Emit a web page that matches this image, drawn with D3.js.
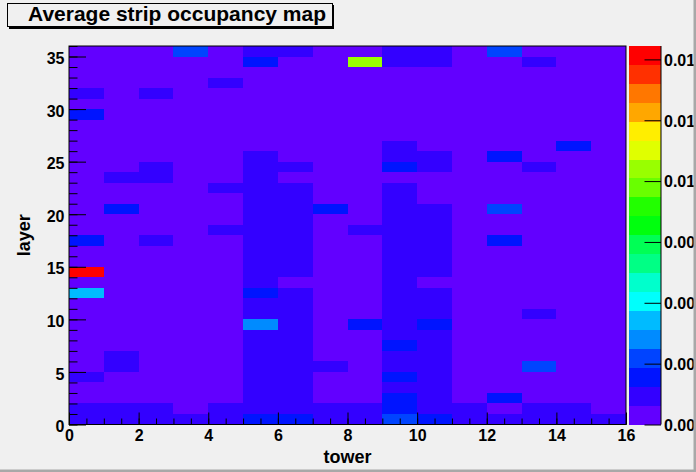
<!DOCTYPE html>
<html>
<head>
<meta charset="utf-8">
<script src="https://cdn.jsdelivr.net/npm/d3@7"></script>
<style>
  body { margin: 0; background: #f0f0f0; }
  svg { display: block; }
  text { font-family: "Liberation Sans", Arial, sans-serif; font-weight: bold; fill: #000; }
</style>
</head>
<body>
<svg id="chart" width="696" height="472"></svg>
<script>
// towers on x, layers on y
var towerTicks = [0, 2, 4, 6, 8, 10, 12, 14, 16];
var layerTicks = [0, 5, 10, 15, 20, 25, 30, 35];
var zTicks = [0.002, 0.004, 0.006, 0.008, 0.010, 0.012, 0.014];
var zMin = 0.002;

// average occupancy, units of 1e-3, one row per layer (layer 0 first), 16 towers each
var layer00 = [2.9,2.9,2.9,2.9,2.9,3.6,3.6,2.9,2.9,4.2,3.6,2.9,2.9,2.9,2.9,2.9];
var layer01 = [2.9,2.9,2.9,2.3,2.9,2.9,2.9,2.9,2.9,3.6,2.9,2.9,2.3,2.9,2.9,2.3];
var layer02 = [2.3,2.3,2.3,2.3,2.3,2.9,2.9,2.3,2.3,3.6,2.9,2.3,3.6,2.3,2.3,2.3];
var layer03 = [2.3,2.3,2.3,2.3,2.3,2.9,2.9,2.3,2.3,2.9,2.9,2.3,2.3,2.3,2.3,2.3];
var layer04 = [2.9,2.3,2.3,2.3,2.3,2.9,2.9,2.3,2.3,3.6,2.9,2.3,2.3,2.3,2.3,2.3];
var layer05 = [2.3,2.9,2.3,2.3,2.3,2.9,2.9,2.9,2.3,2.9,2.9,2.3,2.3,4.2,2.3,2.3];
var layer06 = [2.3,2.9,2.3,2.3,2.3,2.9,2.9,2.3,2.3,2.9,2.9,2.3,2.3,2.3,2.3,2.3];
var layer07 = [2.3,2.3,2.3,2.3,2.3,2.9,2.9,2.3,2.3,3.6,2.9,2.3,2.3,2.3,2.3,2.3];
var layer08 = [2.3,2.3,2.3,2.3,2.3,2.9,2.9,2.3,2.3,2.9,2.9,2.3,2.3,2.3,2.3,2.3];
var layer09 = [2.3,2.3,2.3,2.3,2.3,4.8,2.9,2.3,3.6,2.9,3.6,2.3,2.3,2.3,2.3,2.3];
var layer10 = [2.3,2.3,2.3,2.3,2.3,2.9,2.9,2.3,2.3,2.9,2.9,2.3,2.3,2.9,2.3,2.3];
var layer11 = [2.3,2.3,2.3,2.3,2.3,2.9,2.9,2.3,2.3,2.9,2.9,2.3,2.3,2.3,2.3,2.3];
var layer12 = [5.4,2.3,2.3,2.3,2.3,3.6,2.9,2.3,2.3,2.9,2.9,2.3,2.3,2.3,2.3,2.3];
var layer13 = [2.3,2.3,2.3,2.3,2.3,2.9,2.3,2.3,2.3,2.9,2.3,2.3,2.3,2.3,2.3,2.3];
var layer14 = [14.44,2.3,2.3,2.3,2.3,2.9,2.9,2.3,2.3,2.9,2.9,2.3,2.3,2.3,2.3,2.3];
var layer15 = [2.3,2.3,2.3,2.3,2.3,2.9,2.9,2.3,2.3,2.9,2.9,2.3,2.3,2.3,2.3,2.3];
var layer16 = [2.3,2.3,2.3,2.3,2.3,2.9,2.9,2.3,2.3,2.9,2.9,2.3,2.3,2.3,2.3,2.3];
var layer17 = [3.6,2.3,2.9,2.3,2.3,2.9,2.9,2.3,2.3,2.9,2.9,2.3,3.6,2.3,2.3,2.3];
var layer18 = [2.3,2.3,2.3,2.3,2.9,2.9,2.9,2.3,2.9,2.9,2.9,2.3,2.3,2.3,2.3,2.3];
var layer19 = [2.3,2.3,2.3,2.3,2.3,2.9,2.9,2.3,2.3,2.9,2.9,2.3,2.3,2.3,2.3,2.3];
var layer20 = [2.3,3.6,2.3,2.3,2.3,2.9,2.9,3.6,2.3,2.9,2.9,2.3,4.2,2.3,2.3,2.3];
var layer21 = [2.3,2.3,2.3,2.3,2.3,2.9,2.9,2.3,2.3,2.9,2.3,2.3,2.3,2.3,2.3,2.3];
var layer22 = [2.3,2.3,2.3,2.3,2.9,2.9,2.9,2.3,2.3,2.9,2.3,2.3,2.3,2.3,2.3,2.3];
var layer23 = [2.3,2.9,2.9,2.3,2.3,2.9,2.3,2.3,2.3,2.3,2.3,2.3,2.3,2.3,2.3,2.3];
var layer24 = [2.3,2.3,2.9,2.3,2.3,2.9,2.9,2.3,2.3,3.6,2.9,2.3,2.3,2.9,2.3,2.3];
var layer25 = [2.3,2.3,2.3,2.3,2.3,2.9,2.3,2.3,2.3,2.9,2.9,2.3,3.6,2.3,2.3,2.3];
var layer26 = [2.3,2.3,2.3,2.3,2.3,2.3,2.3,2.3,2.3,2.9,2.3,2.3,2.3,2.3,3.6,2.3];
var layer27 = [2.3,2.3,2.3,2.3,2.3,2.3,2.3,2.3,2.3,2.3,2.3,2.3,2.3,2.3,2.3,2.3];
var layer28 = [2.3,2.3,2.3,2.3,2.3,2.3,2.3,2.3,2.3,2.3,2.3,2.3,2.3,2.3,2.3,2.3];
var layer29 = [3.6,2.3,2.3,2.3,2.3,2.3,2.3,2.3,2.3,2.3,2.3,2.3,2.3,2.3,2.3,2.3];
var layer30 = [2.3,2.3,2.3,2.3,2.3,2.3,2.3,2.3,2.3,2.3,2.3,2.3,2.3,2.3,2.3,2.3];
var layer31 = [2.9,2.3,2.9,2.3,2.3,2.3,2.3,2.3,2.3,2.3,2.3,2.3,2.3,2.3,2.3,2.3];
var layer32 = [2.3,2.3,2.3,2.3,2.9,2.3,2.3,2.3,2.3,2.3,2.3,2.3,2.3,2.3,2.3,2.3];
var layer33 = [2.3,2.3,2.3,2.3,2.3,2.3,2.3,2.3,2.3,2.3,2.3,2.3,2.3,2.3,2.3,2.3];
var layer34 = [2.3,2.3,2.3,2.3,2.3,3.6,2.3,2.3,10.4,2.9,2.9,2.3,2.3,2.9,2.3,2.3];
var layer35 = [2.3,2.3,2.3,4.2,2.3,2.9,2.9,2.3,2.3,2.9,2.9,2.3,4.2,2.3,2.3,2.3];

var layers = [layer00, layer01, layer02, layer03, layer04, layer05, layer06, layer07, layer08,
  layer09, layer10, layer11, layer12, layer13, layer14, layer15, layer16, layer17, layer18,
  layer19, layer20, layer21, layer22, layer23, layer24, layer25, layer26, layer27, layer28,
  layer29, layer30, layer31, layer32, layer33, layer34, layer35];

// ROOT "pretty" palette, 20 contours, violet -> red
var palette = ['#6200ff', '#3300ff', '#0014ff', '#0044ff', '#008bff', '#00bbff', '#00fffc',
  '#00ffcc', '#00ff85', '#00ff55', '#00ff0e', '#22ff00', '#69ff00', '#99ff00', '#e0ff00',
  '#ffee00', '#ffa700', '#ff7700', '#ff3000', '#ff0000'];

var cells = [];
layers.forEach(function(row, l) {
    row.forEach(function(v, t) {
        cells.push({tower: t, layer: l, value: v * 1e-3});
    });
});
var zMax = d3.max(cells, function(d) { return d.value; });

var frame = {left: 69, right: 626, top: 46, bottom: 424.5};
var bar = {left: 629, right: 661};

var svg = d3.select('#chart');
svg.append('rect').attr('width', 696).attr('height', 472).attr('fill', '#f0f0f0');

var x = d3.scaleLinear().domain([0, 16]).range([frame.left, frame.right]);
var y = d3.scaleLinear().domain([0, 36]).range([frame.bottom, frame.top]);
var color = d3.scaleQuantize().domain([zMin, zMax]).range(palette);
var z = d3.scaleLinear().domain([zMin, zMax]).range([frame.bottom, frame.top]);

svg.append('g')
    .selectAll('rect')
    .data(cells).enter()
    .append('rect')
    .attr('x', function(d) { return x(d.tower); })
    .attr('y', function(d) { return y(d.layer + 1); })
    .attr('width', function(d) { return x(d.tower + 1) - x(d.tower); })
    .attr('height', function(d) { return y(d.layer) - y(d.layer + 1); })
    .attr('fill', function(d) { return color(d.value); })
    .attr('shape-rendering', 'crispEdges');

// x axis: ticks point up into the frame
svg.append('g')
    .attr('transform', 'translate(0,' + frame.bottom + ')')
    .call(d3.axisBottom(x).tickValues(d3.range(0, 16.01, 0.5)).tickSizeInner(-6).tickSizeOuter(0).tickFormat(''))
    .call(function(g) { g.select('.domain').remove(); });
svg.append('g')
    .attr('class', 'xaxis')
    .attr('transform', 'translate(0,' + frame.bottom + ')')
    .call(d3.axisBottom(x).tickValues(towerTicks).tickSizeInner(-12).tickSizeOuter(0).tickPadding(5.5))
    .call(function(g) { g.select('.domain').remove(); });

// y axis
svg.append('g')
    .attr('transform', 'translate(' + frame.left + ',0)')
    .call(d3.axisLeft(y).tickValues(d3.range(0, 36.01, 1)).tickSizeInner(-8.5).tickSizeOuter(0).tickFormat(''))
    .call(function(g) { g.select('.domain').remove(); });
svg.append('g')
    .attr('class', 'yaxis')
    .attr('transform', 'translate(' + frame.left + ',0)')
    .call(d3.axisLeft(y).tickValues(layerTicks).tickSizeInner(-17).tickSizeOuter(0).tickPadding(4.5))
    .call(function(g) { g.select('.domain').remove(); });

svg.selectAll('.tick line').attr('stroke', '#000');
svg.selectAll('.xaxis text, .yaxis text')
    .attr('font-size', 16)
    .attr('font-family', '"Liberation Sans", Arial, sans-serif')
    .attr('font-weight', 'bold');
svg.selectAll('.yaxis text').attr('dy', '0.45em');

svg.append('rect')
    .attr('x', frame.left).attr('y', frame.top)
    .attr('width', frame.right - frame.left).attr('height', frame.bottom - frame.top)
    .attr('fill', 'none').attr('stroke', '#000').attr('stroke-width', 1);

// palette axis
var nBands = palette.length;
var step = (zMax - zMin) / nBands;
svg.append('g')
    .selectAll('rect')
    .data(palette).enter()
    .append('rect')
    .attr('x', bar.left)
    .attr('width', bar.right - bar.left)
    .attr('y', function(d, i) { return z(zMin + (i + 1) * step); })
    .attr('height', function(d, i) { return z(zMin + i * step) - z(zMin + (i + 1) * step); })
    .attr('fill', function(d) { return d; })
    .attr('shape-rendering', 'crispEdges');

svg.append('g')
    .attr('class', 'zaxis')
    .attr('transform', 'translate(' + bar.right + ',0)')
    .call(d3.axisRight(z).tickValues(zTicks).tickSizeInner(-16.5).tickSizeOuter(0).tickPadding(3).tickFormat(d3.format('.3f')))
    .call(function(g) {
        g.select('.domain').attr('stroke', '#000').attr('d', 'M0,' + frame.top + 'V' + frame.bottom);
        g.selectAll('line').attr('stroke', '#000');
        g.selectAll('text')
            .attr('font-size', 16)
            .attr('font-family', '"Liberation Sans", Arial, sans-serif')
            .attr('font-weight', 'bold')
            .attr('dy', '0.36em');
    });

// axis titles
svg.append('text')
    .attr('x', (frame.left + frame.right) / 2)
    .attr('y', 463)
    .attr('text-anchor', 'middle')
    .attr('font-size', 18)
    .text('tower');
svg.append('text')
    .attr('transform', 'translate(30,' + ((frame.top + frame.bottom) / 2) + ') rotate(-90)')
    .attr('text-anchor', 'middle')
    .attr('font-size', 18)
    .text('layer');

// title pave with shadow
svg.append('rect').attr('x', 9).attr('y', 5).attr('width', 325).attr('height', 24).attr('fill', '#000');
svg.append('rect').attr('x', 7.5).attr('y', 3.5).attr('width', 325).attr('height', 23)
    .attr('fill', '#f0f0f0').attr('stroke', '#000').attr('stroke-width', 1);
svg.append('text')
    .attr('x', 28)
    .attr('y', 20.7)
    .attr('font-size', 21)
    .text('Average strip occupancy map');

// canvas border
svg.append('rect').attr('x', 693.5).attr('y', 0).attr('width', 2.5).attr('height', 472).attr('fill', '#a8a8a8');
svg.append('rect').attr('x', 0).attr('y', 469.5).attr('width', 696).attr('height', 2.5).attr('fill', '#a8a8a8');
</script>
</body>
</html>
